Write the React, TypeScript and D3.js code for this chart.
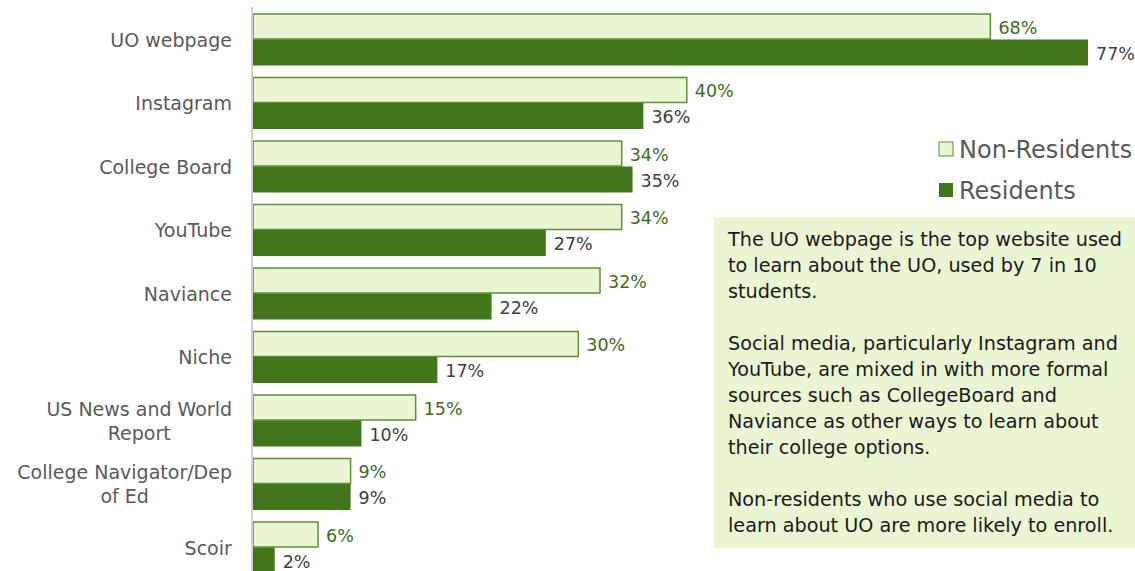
import React, { useEffect, useRef } from "react";
import * as d3 from "d3";

const categories = [
  ["UO webpage"],
  ["Instagram"],
  ["College Board"],
  ["YouTube"],
  ["Naviance"],
  ["Niche"],
  ["US News and World", "Report"],
  ["College Navigator/Dep", "of Ed"],
  ["Scoir"],
];
const nonResidents = [68, 40, 34, 34, 32, 30, 15, 9, 6];
const residents = [77, 36, 35, 27, 22, 17, 10, 9, 2];
const seriesNames = ["Non-Residents", "Residents"];
const noteParagraphs = [
  ["The UO webpage is the top website used", "to learn about the UO, used by 7 in 10", "students."],
  [
    "Social media, particularly Instagram and",
    "YouTube, are mixed in with more formal",
    "sources such as CollegeBoard and",
    "Naviance as other ways to learn about",
    "their college options.",
  ],
  ["Non-residents who use social media to", "learn about UO are more likely to enroll."],
];

const W = 1135;
const H = 571;
const FONT = "'DejaVu Sans', Verdana, sans-serif";
const DARK = "#41761b";
const LIGHT = "#eaf5d3";
const LIGHT_STROKE = "#5f8f36";
const LABEL_GRAY = "#595959";

export default function App() {
  const ref = useRef<SVGSVGElement | null>(null);

  useEffect(() => {
    const svg = d3.select(ref.current);
    svg.selectAll("*").remove();

    const x0 = 253;
    const x = d3.scaleLinear().domain([0, 77]).range([x0, 1088]);
    const step = 63.5;
    const gap = 11.5;
    const y = d3
      .scaleBand<number>()
      .domain(d3.range(categories.length))
      .range([13.5 - gap / 2, 13.5 - gap / 2 + step * categories.length])
      .paddingInner(gap / step)
      .paddingOuter(gap / step / 2);
    const bh = y.bandwidth() / 2;

    const g = svg.append("g");

    categories.forEach((_, i) => {
      const top = y(i)!;
      g.append("rect")
        .attr("x", x0)
        .attr("y", top + 0.5)
        .attr("width", x(nonResidents[i]) - x0)
        .attr("height", bh - 1)
        .attr("fill", LIGHT)
        .attr("stroke", LIGHT_STROKE)
        .attr("stroke-width", 1.5);
      g.append("rect")
        .attr("x", x0)
        .attr("y", top + bh)
        .attr("width", x(residents[i]) - x0)
        .attr("height", bh)
        .attr("fill", DARK);

      g.append("text")
        .attr("x", x(nonResidents[i]) + 8)
        .attr("y", top + bh / 2 + 7)
        .attr("font-family", FONT)
        .attr("font-size", 17.5)
        .attr("fill", "#3b6e17")
        .text(nonResidents[i] + "%");
      g.append("text")
        .attr("x", x(residents[i]) + 8)
        .attr("y", top + bh * 1.5 + 7)
        .attr("font-family", FONT)
        .attr("font-size", 17.5)
        .attr("fill", "#404040")
        .text(residents[i] + "%");

      const lines = categories[i];
      const cy = top + bh;
      const lh = 24;
      const t = g
        .append("text")
        .attr("font-family", FONT)
        .attr("font-size", 19)
        .attr("fill", LABEL_GRAY)
        .attr("text-anchor", "middle");
      lines.forEach((ln, k) => {
        t.append("tspan")
          .attr("x", 0)
          .attr("y", cy + 7 + (k - (lines.length - 1) / 2) * lh)
          .text(ln);
      });
      const bb = (t.node() as SVGTextElement).getBBox();
      t.attr("transform", `translate(${232 - (bb.x + bb.width)},0)`);
    });

    g.append("line")
      .attr("x1", 252)
      .attr("x2", 252)
      .attr("y1", 7)
      .attr("y2", H)
      .attr("stroke", "#d0d0d0")
      .attr("stroke-width", 2);

    const legendY = [149, 190];
    seriesNames.forEach((name, i) => {
      g.append("rect")
        .attr("x", 939)
        .attr("y", legendY[i] - 7)
        .attr("width", 14)
        .attr("height", 14)
        .attr("fill", i === 0 ? LIGHT : DARK)
        .attr("stroke", i === 0 ? LIGHT_STROKE : "none")
        .attr("stroke-width", 1);
      g.append("text")
        .attr("x", 959)
        .attr("y", legendY[i] + 9)
        .attr("font-family", FONT)
        .attr("font-size", 24)
        .attr("fill", LABEL_GRAY)
        .text(name);
    });

    g.append("rect")
      .attr("x", 714)
      .attr("y", 217)
      .attr("width", W - 714)
      .attr("height", 331)
      .attr("fill", "#e9f5d3");
    const note = g
      .append("text")
      .attr("font-family", FONT)
      .attr("font-size", 19.2)
      .attr("fill", "#1a1a1a");
    let ly = 246;
    noteParagraphs.forEach((p) => {
      p.forEach((ln) => {
        note.append("tspan").attr("x", 728).attr("y", ly).text(ln);
        ly += 26;
      });
      ly += 26;
    });
  }, []);

  return (
    <svg
      ref={ref}
      width={W}
      height={H}
      style={{ position: "absolute", left: 0, top: 0, background: "#fff" }}
    />
  );
}
